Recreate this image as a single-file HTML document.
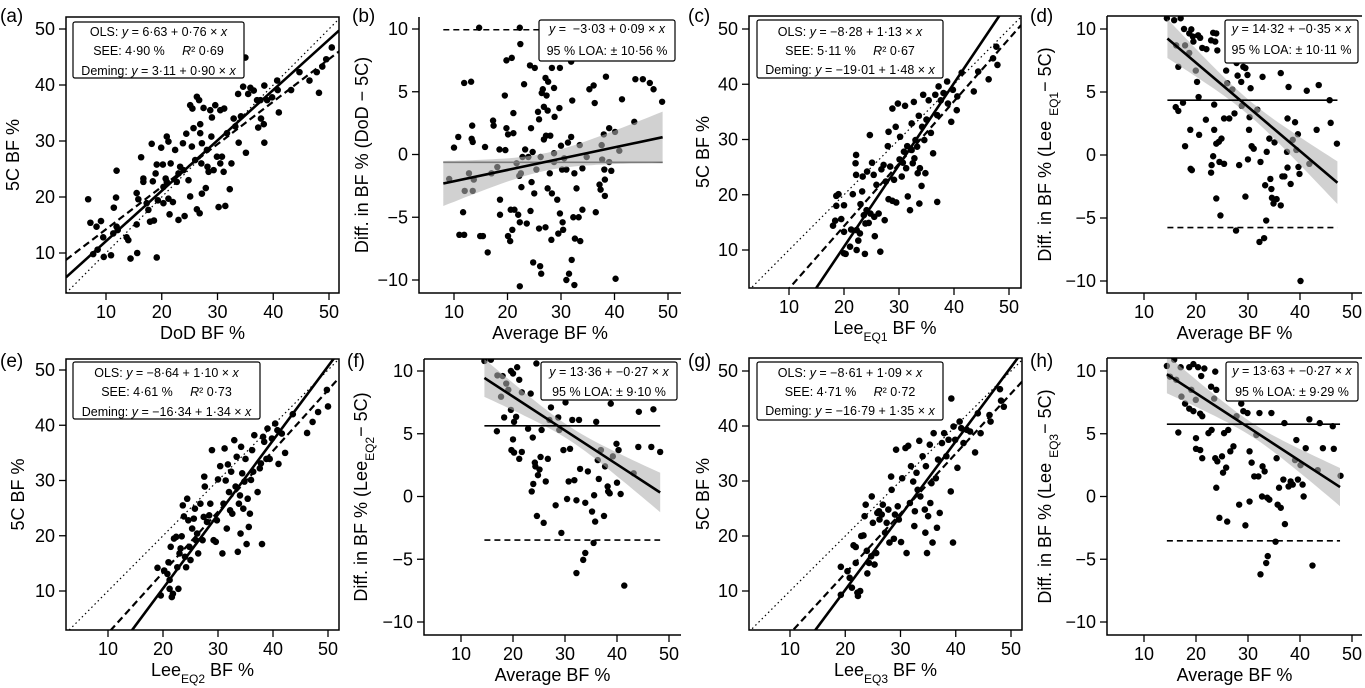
<!DOCTYPE html>
<html><head><meta charset="utf-8"><title>Body fat agreement plots</title>
<style>
html,body{margin:0;padding:0;background:#fff;}
svg{display:block;font-family:"Liberation Sans",Arial,sans-serif;}
text{white-space:pre;}
</style></head>
<body>
<svg id="chart" width="1365" height="688" viewBox="0 0 1365 688" xmlns="http://www.w3.org/2000/svg"></svg>
<script>
// ---------- data ----------
const aX=[6.8,7.2,7.7,8.3,9.1,8.5,9.5,9.6,10.9,11.3,11.4,11.8,11.9,11.9,12.1,13.7,14.0,14.4,15.5,15.6,15.5,15.8,16.3,16.7,16.7,17.3,17.6,17.9,18.2,18.4,18.6,18.9,19.1,19.1,19.3,19.9,20.2,20.3,20.3,20.7,20.9,20.9,21.2,21.2,21.4,21.6,22.0,22.4,22.7,23.0,23.0,23.3,23.8,23.9,24.1,24.4,24.8,25.1,25.1,25.4,25.5,25.7,26.0,26.3,26.3,26.7,26.8,26.9,26.9,27.1,27.2,27.2,27.5,27.9,28.1,28.2,28.4,28.7,28.9,29.0,29.3,29.6,29.9,30.2,30.5,30.5,30.8,31.1,31.2,31.4,31.7,32.2,32.5,32.9,33.2,33.7,33.8,34.2,34.6,35.0,35.1,35.5,35.9,36.5,37.1,37.3,37.7,37.8,38.3,38.4,38.4,38.9,39.8,40.7,40.8,41.0,43.2,44.7,46.5,47.8,48.2,48.8,49.5,50.5];
const aY=[19.6,15.4,9.8,14.7,15.7,10.6,12.8,9.3,9.6,13.5,18.1,19.9,24.7,14.7,14.1,12.8,12.3,9.0,20.7,10.0,15.1,19.6,27.1,23.3,22.7,18.9,17.7,15.6,29.5,22.8,15.8,24.2,25.8,9.2,19.4,28.8,25.8,18.9,21.8,23.3,22.7,30.8,29.9,19.7,16.9,26.0,19.1,28.4,22.7,24.2,15.9,25.4,29.6,24.8,16.6,31.3,23.0,20.1,36.4,29.0,35.8,32.3,26.6,37.9,17.8,37.3,17.1,33.0,31.4,26.0,29.6,20.6,35.9,21.6,28.4,25.4,24.5,35.5,30.8,34.2,24.8,36.4,27.2,18.2,35.5,26.0,27.2,24.5,35.8,18.4,31.4,21.4,26.0,34.0,32.6,38.4,29.7,34.4,39.7,44.9,27.9,38.4,39.5,39.0,37.3,32.4,37.3,34.0,33.0,39.9,29.7,37.3,37.8,40.8,39.1,35.1,39.1,42.3,40.8,42.3,38.6,43.3,44.6,46.7];
const aOLS=[6.63,0.76];
const aDeming=[3.11,0.90];

const bX=[9.1,10,10.8,11.0,11.7,11.9,11.9,12.0,12.8,13.2,13.3,13.4,13.5,13.7,13.5,14.9,15.4,14.7,15.8,16.3,17.0,17.3,17.4,18.1,18.5,18.6,18.6,19.5,19.6,19.8,19.8,20.1,20.1,20.5,20.6,20.8,20.9,21.1,21.1,21.3,21.7,22.0,22.2,22.3,22.3,22.3,22.4,22.5,22.6,22.8,23.1,23.3,23.6,23.9,24.2,24.3,24.4,24.5,24.7,24.8,25.1,25.0,25.4,25.7,25.9,25.9,26.1,26.3,26.2,26.4,26.6,26.8,26.8,27.1,27.1,27.2,27.3,27.5,27.5,27.6,27.9,28.0,28.2,28.3,28.3,28.7,28.7,28.7,28.8,29.3,29.5,29.7,29.8,29.8,30.0,30.3,30.4,30.2,30.6,31.0,31.0,31.3,31.5,31.9,31.9,32.0,32.1,32.3,32.5,32.5,32.6,32.9,33.3,33.5,33.6,34.0,34.0,34.8,35.3,36.1,36.3,36.5,37.2,37.4,37.6,37.7,38.0,38.1,38.2,38.2,38.4,39.0,39.0,39.4,40.1,40.2,40.9,41.4,43.7,43.9,45.3,46.6,47.3,48.9];
const bY=[-1.95,0.55,1.4,-6.4,-4.6,5.7,-6.4,-2.9,-1.5,5.8,1.25,2.3,1.0,-2.0,-2.9,-6.5,-6.5,10.1,0.6,-7.8,-1.5,2.7,2.3,-1.0,0.4,-4.8,-3.6,4.7,0.35,2.1,7.5,1.6,-6.5,-6.9,-4.4,7.7,-6.0,1.7,3.3,-4.4,-0.7,-4.8,-1.7,-5.4,-10.5,10.1,8.8,-1.5,-2.6,-0.2,5.6,0.4,-5.5,-0.2,7.1,-4.5,2.1,-2.2,0.2,-8.6,6.9,-3.1,-1.2,3.4,2.8,-5.9,-8.9,-9.5,-0.2,4.9,5.2,3.8,1.2,6.1,-5.8,1.5,4.7,3.5,-2.7,5.8,-1.5,1.5,-6.8,6.9,-3.1,0.1,-0.6,5.3,3.0,-3.6,-6.3,3.7,6.9,-4.7,0.7,-5.4,-6.0,-1.2,-0.3,-10.0,-1.2,0.95,-9.5,7.4,1.4,-8.4,4.3,-5.0,-10.4,-1.5,-6.7,-2.7,-5.0,0.75,-6.9,-1.1,-4.4,-0.2,5.2,5.5,4.1,-4.6,-2.4,-2.8,0.75,-0.4,1.6,-1.2,-2.0,-3.3,6.2,2.1,-0.6,-1.3,1.8,-9.9,0.3,4.4,2.6,6.0,6.0,5.7,5.2,4.2];
const bFit=[-3.03,0.09];
const bMean=-0.62;
const bLOA=10.56;

const cX=[18.0,18.4,18.6,19.0,18.6,19.5,20.0,20.0,20.0,20.3,21.1,21.3,21.6,22.1,22.2,22.2,22.3,22.3,22.6,22.9,23.0,23.3,23.4,23.6,23.8,23.9,24.1,24.2,24.5,24.7,24.8,25.1,25.4,25.5,25.6,25.9,26.3,26.6,26.8,27.2,27.4,27.6,27.97,28.1,28.1,28.4,28.8,28.8,29.1,29.4,29.5,29.8,30.1,30.2,30.5,30.7,30.9,31.1,31.3,31.5,31.6,32.0,32.3,32.3,32.5,32.7,32.8,33.0,33.3,33.4,33.6,33.7,33.8,34.1,34.2,34.4,34.6,34.8,35.0,35.4,35.8,36.2,36.6,36.95,36.95,37.2,37.6,38.1,38.75,38.9,39.5,39.8,40.5,40.6,41.4,43.6,44.4,46.3,47.1,47.7,47.9];
const cY=[14.4,15.3,19.8,20.1,18.0,15.6,18.1,13.3,9.4,9.3,10.6,13.7,20.1,25.7,27.2,23.6,13.6,10.0,11.7,13.0,18.3,20.6,23.3,16.3,9.3,14.8,17.2,24.2,14.9,30.8,16.6,25.8,23.6,16.0,12.5,21.8,16.6,9.7,24.6,25.4,15.4,22.4,28.8,19.2,31.4,25.1,18.9,35.6,22.7,32.3,18.6,36.5,26.4,30.5,23.3,25.8,27.8,36.1,24.8,28.8,19.7,17.2,28.1,32.9,25.7,36.8,26.6,29.9,28.7,23.9,34.3,18.4,24.8,21.6,32.3,38.1,29.9,23.9,33.6,37.1,31.2,27.5,38.1,18.7,34.4,39.6,37.1,38.4,40.5,36.5,33.2,39.0,35.3,37.8,42.1,38.7,42.3,40.9,44.7,46.8,43.5];
const cOLS=[-8.28,1.13];
const cDeming=[-19.01,1.48];

const dX=[14.4,15.8,17.05,17.7,18.7,19.1,19.4,19.5,20.4,20.8,21.2,22.0,22.9,23.3,23.7,23.9,24.1,16.2,17.9,16.6,18.7,19.96,20.2,20.5,16.1,16.6,17.5,18.9,18.96,19.2,17.9,20.6,21.9,22.9,23.0,23.3,23.5,23.5,23.9,23.9,24.4,24.5,24.7,24.9,25.4,25.4,25.8,26.0,26.4,27.0,27.4,27.7,27.8,28.0,28.3,28.7,28.8,29.1,29.5,29.5,29.9,29.99,30.2,30.3,30.5,30.7,31.1,31.8,32.2,32.4,32.8,33.1,33.3,33.5,33.6,34.1,34.3,34.5,34.6,34.9,35.1,35.5,36.3,36.3,36.6,37.0,37.5,37.6,37.6,37.8,38.2,38.6,39.05,39.3,39.6,39.7,39.9,40.1,41.3,41.8,43.2,43.6,45.7,45.9,47.1];
const dY=[10.85,10.7,10.85,10.0,9.65,9.97,9.4,9.0,9.5,9.3,8.5,8.4,9.1,9.7,9.0,9.65,8.3,8.7,8.7,7.0,8.1,6.7,5.8,4.6,3.8,3.5,4.15,2.0,-1.1,-1.2,0.7,1.6,2.8,-1.4,-0.8,-0.1,2.0,4.0,0.9,-3.45,1.05,-0.55,-4.8,1.3,-0.7,2.9,6.7,5.7,2.9,5.2,3.3,-6.0,7.3,6.3,-0.8,5.8,3.9,7.0,6.9,-3.3,6.35,-0.35,2.0,3.0,5.3,0.7,0.5,3.6,-6.9,-0.55,6.2,-6.6,-2.4,-5.2,0.25,1.3,-1.9,-2.7,-3.4,-3.85,1.0,-3.5,6.5,-4.0,-1.7,-1.7,0.25,2.9,-1.0,5.4,-2.3,1.2,2.6,0.4,1.65,-0.95,-1.5,-10.0,5.1,-0.7,2.0,5.55,4.35,2.55,0.9];
const dFit=[14.32,-0.35];
const dMean=4.35;
const dLOA=10.11;

const eX=[19.0,19.6,20.2,20.8,21.0,21.2,21.2,21.4,21.6,21.8,22.0,22.4,22.6,22.8,23.0,23.2,23.4,23.6,23.8,24.0,24.2,24.4,24.6,24.8,25.0,25.3,25.6,25.8,26.0,26.2,26.4,26.8,27.2,27.4,27.5,27.6,28.0,28.4,28.6,28.9,29.2,29.6,29.8,30.0,30.4,30.8,31.0,31.2,31.4,31.6,31.8,32.0,32.2,32.4,32.6,32.96,33.2,33.4,33.6,33.8,34.0,34.1,34.2,34.4,34.6,34.8,35.0,35.2,35.4,35.6,35.8,36.0,36.2,36.4,36.6,37.2,37.6,37.8,38.0,38.2,38.4,38.8,39.0,39.4,39.8,40.4,40.8,41.0,41.6,42.2,43.6,46.2,47.2,48.2,49.8,50.0];
const eY=[14.2,9.2,13.7,13.1,15.2,12.0,10.4,18.0,8.9,9.5,19.5,19.8,14.3,10.4,16.8,17.7,19.9,25.5,23.5,16.2,14.3,26.7,22.8,18.0,15.6,21.3,23.1,24.9,19.2,20.4,16.8,25.8,19.2,23.4,30.7,28.9,22.5,23.7,25.8,35.5,19.2,18.9,22.8,30.2,32.6,16.8,25.8,35.8,30.0,21.3,32.9,27.9,24.6,31.6,24.0,37.3,28.9,34.3,17.1,25.8,27.3,20.4,36.1,31.3,24.9,29.8,33.9,18.5,26.7,21.6,24.0,30.1,35.5,31.6,38.2,27.9,32.2,33.1,18.5,37.9,37.0,33.9,39.4,33.9,37.6,40.3,39.1,33.0,38.5,35.0,42.0,38.6,40.6,42.4,46.4,43.4];
const eOLS=[-8.64,1.10];
const eDeming=[-16.34,1.34];

const fX=[14.5,15.75,17.0,17.7,18.0,18.7,19.1,19.6,20.0,20.8,21.2,21.7,16.9,18.3,19.6,20.2,20.0,19.7,20.2,20.6,21.2,21.7,22.9,23.4,23.6,23.8,23.9,24.2,24.3,24.5,24.6,24.8,25.1,25.3,25.5,25.9,26.3,26.7,27.0,27.3,27.6,28.2,28.7,28.9,29.3,29.7,30.1,30.4,30.7,30.97,31.4,31.8,32.2,32.2,32.7,32.9,33.5,33.9,33.9,34.4,35.2,35.5,35.6,35.8,36.0,36.3,36.5,36.9,37.5,37.7,38.2,38.3,38.6,38.8,39.2,39.9,40.0,40.3,40.7,41.4,43.2,44.1,44.2,46.6,47.0,48.3];
const fY=[10.8,10.9,9.65,7.95,9.6,9.0,8.5,10.0,9.8,10.3,9.3,8.3,5.2,6.3,6.9,5.95,4.55,3.7,3.5,6.35,3.0,3.55,5.4,8.2,0.4,4.7,1.0,2.7,2.4,10.6,-1.55,1.7,2.15,3.15,5.3,-2.1,1.2,3.0,6.1,7.1,8.0,-0.7,6.3,5.3,-2.9,3.7,7.5,-0.2,1.2,3.8,6.1,1.3,-6.1,-0.3,6.1,2.2,-5.05,-4.5,-0.5,2.0,-1.2,-3.7,0.1,-2.0,5.95,2.9,1.4,3.7,-1.55,2.4,0.8,0.4,0.25,7.4,3.2,4.2,1.1,3.7,0.2,-7.1,1.85,3.95,6.75,3.95,6.95,3.55];
const fFit=[13.36,-0.27];
const fMean=5.63;
const fLOA=9.10;

const gX=[19.2,19.2,20.4,20.8,21.2,21.5,21.9,21.9,22.2,22.3,22.7,22.9,23.3,23.5,23.7,23.9,24.0,24.3,24.7,24.8,25.0,25.3,25.6,25.8,26.1,26.2,26.6,26.8,27.2,27.5,27.8,28.0,28.3,28.4,28.8,29.0,29.2,29.5,29.7,30.1,30.3,30.9,31.1,31.4,31.7,31.9,32.3,32.5,32.6,32.9,33.1,33.4,33.6,34.0,34.4,34.5,34.6,34.8,35.0,35.3,35.4,35.6,35.8,36.0,36.4,36.6,36.8,37.1,37.5,37.9,38.3,38.7,39.1,39.5,39.6,39.9,40.3,40.7,41.0,41.4,42.0,42.6,43.5,44.0,44.5,46.1,46.3,48.0,48.2,48.7,39.2];
const gY=[9.3,14.4,13.6,12.4,10.6,18.3,18.0,15.1,9.7,9.1,10.0,20.0,20.1,23.6,25.7,17.3,13.2,15.1,16.3,27.2,22.4,14.8,16.9,24.2,24.5,23.0,23.9,25.7,20.6,22.4,24.8,18.8,30.8,28.4,19.5,23.9,35.7,25.4,23.0,18.9,30.5,36.0,16.9,36.4,26.0,32.7,29.9,21.8,24.5,31.5,28.4,37.3,27.2,34.5,24.8,20.6,32.7,16.9,23.6,36.6,26.0,29.6,18.8,38.7,30.5,21.5,33.9,24.2,36.9,38.7,34.5,37.5,28.1,18.8,39.9,37.5,32.4,40.8,39.6,36.9,39.3,39.0,35.2,42.3,38.7,42.0,40.8,46.7,44.6,43.5,45.0];
const gOLS=[-8.61,1.09];
const gDeming=[-16.79,1.35];

const hX=[14.4,15.8,17.05,18.7,19.5,20.4,21.0,21.6,23.7,15.0,16.2,17.2,17.9,18.7,19.1,19.5,19.96,20.8,21.2,22.9,23.5,23.9,16.6,20.0,20.0,20.8,21.2,22.4,23.0,23.7,23.9,24.1,24.5,25.0,25.2,25.4,25.8,26.0,26.2,26.6,27.2,27.8,28.3,28.7,29.1,29.5,29.9,30.3,30.3,30.7,31.2,31.6,32.0,32.2,32.4,32.7,32.8,33.2,33.5,33.7,33.8,34.1,34.5,35.3,35.5,35.7,35.97,36.3,36.8,37.0,37.1,37.8,38.2,38.6,39.05,39.3,39.6,40.1,40.5,40.7,41.1,41.8,42.4,43.4,43.8,44.4,46.3,46.5,47.8];
const hY=[10.4,10.9,10.3,10.3,10.55,10.3,9.6,10.2,9.95,9.55,9.3,7.96,7.4,7.0,8.5,6.8,7.7,6.6,6.4,8.75,7.8,8.5,5.1,4.65,3.8,3.7,3.05,5.05,5.3,3.05,0.7,2.8,-1.7,3.2,1.9,5.05,2.3,-2.0,5.3,3.6,4.0,6.4,-0.65,7.4,6.8,-2.3,6.65,3.6,-0.4,2.7,1.6,4.9,1.6,6.65,-6.2,0.0,2.4,2.0,-5.3,-0.1,-4.75,-0.25,6.65,-3.6,3.05,-0.65,0.7,-0.9,1.35,5.85,-2.2,0.8,1.2,0.95,2.9,4.5,1.35,2.5,0.95,0.0,3.85,6.15,-5.5,2.1,5.85,3.85,5.6,3.8,1.65];
const hFit=[13.63,-0.27];
const hMean=5.76;
const hLOA=9.29;

const xTicks=[10,20,30,40,50];
const yTicksScatter=[10,20,30,40,50];
const yTicksDiff=[-10,-5,0,5,10];

// ---------- drawing ----------
const NS='http://www.w3.org/2000/svg';
const svg=document.getElementById('chart');
function el(tag,parent,attrs){const e=document.createElementNS(NS,tag);for(const k in attrs)e.setAttribute(k,attrs[k]);parent.appendChild(e);return e;}
function lin(a0,a1,p0,p1){return v=>p0+(v-a0)*(p1-p0)/(a1-a0);}
function richText(parent,parts,x,y,size,anchor){
  const t=el('text',parent,{x:x,y:y,'font-size':size,'text-anchor':anchor||'middle',fill:'#000'});
  parts.forEach(p=>{
    const s=document.createElementNS(NS,'tspan');
    if(Array.isArray(p)){s.textContent=p[0];
      if(p[1]==='i')s.setAttribute('font-style','italic');
      if(p[1]==='sub'){s.setAttribute('font-size',Math.round(size*0.68));s.setAttribute('baseline-shift','sub');}
    } else s.textContent=p;
    t.appendChild(s);});
  return t;
}
function axisTicks(g,c,sx,sy,yt,panelKey){
  xTicks.forEach(v=>{
    const tk=el('line',g,{x1:sx(v),x2:sx(v),y1:c.B,y2:c.B+7,stroke:'#000','stroke-width':1.3});
    
    
    const lb=el('text',g,{x:sx(v),y:c.B+25,'font-size':18,'text-anchor':'middle'});
    lb.textContent=String(v);
    
    
  });
  yt.forEach(v=>{
    const tk=el('line',g,{x1:c.L-7,x2:c.L,y1:sy(v),y2:sy(v),stroke:'#000','stroke-width':1.3});
    
    
    const lb=el('text',g,{x:c.L-11,y:sy(v)+6,'font-size':18,'text-anchor':'end'});
    lb.textContent=(v<0?'\u2212'+Math.abs(v):String(v));
    
    
  });
}
function titles(g,c,key,xParts,yParts){
  const lab=el('text',g,{x:c.labX,y:c.labY,'font-size':19});
  lab.textContent='('+key+')';
  
  
  const xt=richText(g,xParts,(c.L+c.R)/2,c.B+46,18,'middle');
  
  
  const cy=(c.T+c.B)/2, cx=c.L-c.yTitleOff;
  const yt=richText(g,yParts,0,0,18,'middle');
  yt.setAttribute('transform','translate('+(cx+6)+','+cy+') rotate(-90)');
  
  
}
function legend(g,c,key,lines){
  const r=el('rect',g,{x:c.lx0,y:c.ly0,width:c.lx1-c.lx0,height:c.ly1-c.ly0,fill:'#fff',stroke:'#000','stroke-width':1.2,rx:2});
  
  
  lines.forEach((parts,i)=>{
    const t=richText(g,parts,(c.lx0+c.lx1)/2,c.lb[i],12.5,'middle');
    
    
  });
}
function dots(g,X,Y,sx,sy,key,r){
  const n=Math.min(X.length,Y.length);
  for(let i=0;i<n;i++){
    const d=el('circle',g,{cx:sx(X[i]),cy:sy(Y[i]),r:r,fill:'#000'});
    
    
  }
}
function scatterPanel(key,c,X,Y,ols,dem,legLines,xParts){
  const g=el('g',svg,{});
  
  
  const sx=lin(10,50,c.x10,c.x50), sy=lin(10,50,c.y10,c.y50);
  const ix=lin(c.x10,c.x50,10,50);
  const x0=ix(c.L), x1=ix(c.R);
  const cp=el('clipPath',g,{id:'clip-'+key});
  el('rect',cp,{x:c.L,y:c.T,width:c.R-c.L,height:c.B-c.T});
  const inner=el('g',g,{'clip-path':'url(#clip-'+key+')'});
  
  
  dots(inner,X,Y,sx,sy,key,3.3);
  const idl=el('line',inner,{x1:sx(x0),y1:sy(x0),x2:sx(x1),y2:sy(x1),stroke:'#000','stroke-width':1.2,'stroke-dasharray':'1.5,3'});
  
  
  const ol=el('line',inner,{x1:sx(x0),y1:sy(ols[0]+ols[1]*x0),x2:sx(x1),y2:sy(ols[0]+ols[1]*x1),stroke:'#000','stroke-width':2.2,'stroke-dasharray':'7,4'});
  
  
  const dl=el('line',inner,{x1:sx(x0),y1:sy(dem[0]+dem[1]*x0),x2:sx(x1),y2:sy(dem[0]+dem[1]*x1),stroke:'#000','stroke-width':2.6});
  
  
  const box=el('rect',g,{x:c.L,y:c.T,width:c.R-c.L,height:c.B-c.T,fill:'none',stroke:'#000','stroke-width':1.5});
  
  
  legend(g,c,key,legLines);
  axisTicks(g,c,sx,sy,yTicksScatter,key);
  titles(g,c,key,xParts,['5C BF %']);
}
function diffPanel(key,c,X,Y,fit,mean,loa,xr,ci,legLines,yParts,topLine){
  const g=el('g',svg,{});
  
  
  const sx=lin(10,50,c.x10,c.x50), sy=lin(-10,10,c.y_10,c.y10);
  const cp=el('clipPath',g,{id:'clip-'+key});
  el('rect',cp,{x:c.L,y:c.T,width:c.R-c.L,height:c.B-c.T});
  const inner=el('g',g,{'clip-path':'url(#clip-'+key+')'});
  
  
  dots(inner,X,Y,sx,sy,key,3.2);
  if(c.meanUnder){
    const ml=el('line',inner,{x1:sx(xr[0]),x2:sx(xr[1]),y1:sy(mean),y2:sy(mean),stroke:'#333','stroke-width':1.6});
    
    
  }
  // CI band
  const up=[],lo=[];
  for(let k=0;k<=40;k++){
    const x=xr[0]+(xr[1]-xr[0])*k/40;
    const y=fit[0]+fit[1]*x;
    const hw=Math.sqrt(ci[1]*ci[1]+ci[2]*ci[2]*(x-ci[0])*(x-ci[0]));
    up.push(sx(x).toFixed(1)+','+sy(y+hw).toFixed(1));
    lo.unshift(sx(x).toFixed(1)+','+sy(y-hw).toFixed(1));
  }
  const band=el('polygon',inner,{points:up.concat(lo).join(' '),fill:'rgb(175,175,175)','fill-opacity':0.58});
  
  
  if(!c.meanUnder){
    const ml=el('line',inner,{x1:sx(xr[0]),x2:sx(xr[1]),y1:sy(mean),y2:sy(mean),stroke:'#000','stroke-width':1.6});
    
    
  }
  [mean+loa,mean-loa].forEach((v,i)=>{
    const l=el('line',inner,{x1:sx(xr[0]),x2:sx(xr[1]),y1:sy(v),y2:sy(v),stroke:'#000','stroke-width':1.6,'stroke-dasharray':'6,4'});
    
    
  });
  const rl=el('line',inner,{x1:sx(xr[0]),y1:sy(fit[0]+fit[1]*xr[0]),x2:sx(xr[1]),y2:sy(fit[0]+fit[1]*xr[1]),stroke:'#000','stroke-width':2.6});
  
  
  const ax=el('path',g,{d:'M'+c.L+','+c.T+' L'+c.L+','+c.B+' L'+c.R+','+c.B+(topLine?(' M'+c.L+','+c.T+' L'+c.R+','+c.T):''),fill:'none',stroke:'#000','stroke-width':1.5});
  
  
  legend(g,c,key,legLines);
  axisTicks(g,c,sx,sy,yTicksDiff,key);
  titles(g,c,key,['Average BF %'],yParts);
}
const I='i';
scatterPanel('a',{L:66,R:339,T:17,B:293,x10:106,x50:329,y10:253,y50:29,labX:0,labY:22,yTitleOff:53,lx0:73,ly0:22,lx1:244,ly1:78,lb:[36,55,75]},
  aX,aY,aOLS,aDeming,
  [['OLS: ',['y',I],' = 6\u00b763 + 0\u00b776 \u00d7 ',['x',I]],['SEE: 4\u00b790 %     ',['R',I],'\u00b2 0\u00b769'],['Deming: ',['y',I],' = 3\u00b711 + 0\u00b790 \u00d7 ',['x',I]]],
  ['DoD BF %']);
diffPanel('b',{L:419,R:681,T:17,B:293,x10:454,x50:668,y10:29,y_10:280,labX:352,labY:22,yTitleOff:57,meanUnder:true,lx0:539,ly0:20,lx1:675,ly1:61,lb:[33,55]},
  bX,bY,bFit,bMean,bLOA,[8,49],[27,0.7,0.087],
  [[['y',I],' =  \u22123\u00b703 + 0\u00b709 \u00d7 ',['x',I]],['95 % LOA: \u00b1 10\u00b756 %']],
  ['Diff. in BF % (DoD \u2212 5C)'],false);
scatterPanel('c',{L:749,R:1021,T:16,B:288,x10:789,x50:1009,y10:250,y50:29,labX:688,labY:22,yTitleOff:46,lx0:757,ly0:20,lx1:943,ly1:78,lb:[36,55,74]},
  cX,cY,cOLS,cDeming,
  [['OLS: ',['y',I],' = \u22128\u00b728 + 1\u00b713 \u00d7 ',['x',I]],['SEE: 5\u00b711 %     ',['R',I],'\u00b2 0\u00b767'],['Deming: ',['y',I],' = \u221219\u00b701 + 1\u00b748 \u00d7 ',['x',I]]],
  ['Lee',['EQ1','sub'],' BF %']);
diffPanel('d',{L:1107,R:1362,T:16,B:293,x10:1144,x50:1352,y10:29,y_10:281,labX:1030,labY:22,yTitleOff:62,lx0:1225,ly0:20,lx1:1358,ly1:63,lb:[33,54]},
  dX,dY,dFit,dMean,dLOA,[14.5,47.2],[30,0.6,0.092],
  [[['y',I],' = 14\u00b732 + \u22120\u00b735 \u00d7 ',['x',I]],['95 % LOA: \u00b1 10\u00b711 %']],
  ['Diff. in BF % (Lee ',['EQ1','sub'],'\u2212 5C)'],true);
scatterPanel('e',{L:66,R:339,T:359,B:630,x10:108,x50:328,y10:591,y50:370,labX:0,labY:367,yTitleOff:48,lx0:73,ly0:362,lx1:260,ly1:419,lb:[377,396,416]},
  eX,eY,eOLS,eDeming,
  [['OLS: ',['y',I],' = \u22128\u00b764 + 1\u00b710 \u00d7 ',['x',I]],['SEE: 4\u00b761 %     ',['R',I],'\u00b2 0\u00b773'],['Deming: ',['y',I],' = \u221216\u00b734 + 1\u00b734 \u00d7 ',['x',I]]],
  ['Lee',['EQ2','sub'],' BF %']);
diffPanel('f',{L:424,R:681,T:359,B:635,x10:461,x50:669,y10:371,y_10:622,labX:347,labY:367,yTitleOff:63,lx0:541,ly0:362,lx1:677,ly1:400,lb:[376,396]},
  fX,fY,fFit,fMean,fLOA,[14.5,48.3],[31,0.55,0.085],
  [[['y',I],' = 13\u00b736 + \u22120\u00b727 \u00d7 ',['x',I]],['95 % LOA: \u00b1 9\u00b710 %']],
  ['Diff. in BF % (Lee',['EQ2','sub'],'\u2212 5C)'],true);
scatterPanel('g',{L:749,R:1022,T:358,B:630,x10:790,x50:1011,y10:591,y50:371,labX:688,labY:367,yTitleOff:46,lx0:757,ly0:362,lx1:943,ly1:420,lb:[377,396,415]},
  gX,gY,gOLS,gDeming,
  [['OLS: ',['y',I],' = \u22128\u00b761 + 1\u00b709 \u00d7 ',['x',I]],['SEE: 4\u00b771 %     ',['R',I],'\u00b2 0\u00b772'],['Deming: ',['y',I],' = \u221216\u00b779 + 1\u00b735 \u00d7 ',['x',I]]],
  ['Lee',['EQ3','sub'],' BF %']);
diffPanel('h',{L:1107,R:1362,T:358,B:635,x10:1144,x50:1352,y10:371,y_10:622,labX:1030,labY:367,yTitleOff:62,lx0:1226,ly0:362,lx1:1358,ly1:401,lb:[375,396]},
  hX,hY,hFit,hMean,hLOA,[14.4,47.7],[31,0.55,0.085],
  [[['y',I],' = 13\u00b763 + \u22120\u00b727 \u00d7 ',['x',I]],['95 % LOA: \u00b1 9\u00b729 %']],
  ['Diff. in BF % (Lee ',['EQ3','sub'],'\u2212 5C)'],true);
</script>
</body></html>
